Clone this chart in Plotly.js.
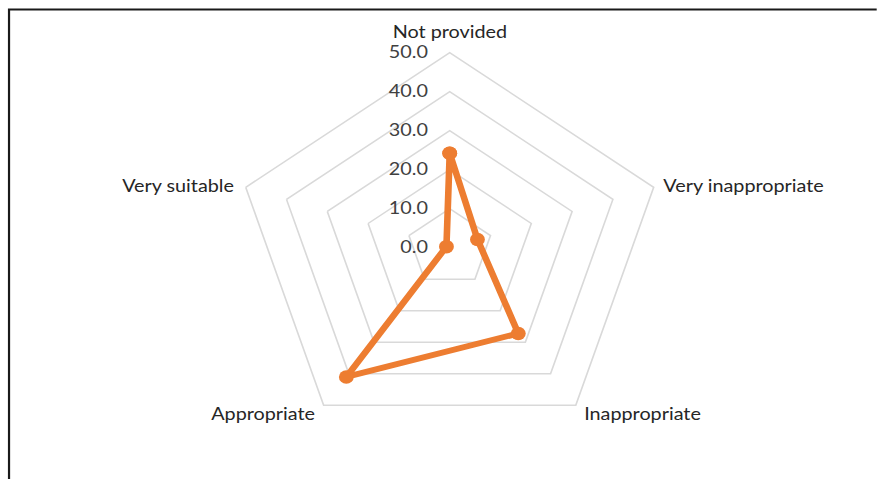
<!DOCTYPE html>
<html>
<head>
<meta charset="utf-8">
<script src="https://cdn.plot.ly/plotly-3.0.1.min.js"></script>
<style>
  html, body { margin: 0; padding: 0; background: #ffffff; overflow: hidden; }
  #wrap { width: 877px; height: 479px; overflow: hidden; position: relative; }
  /* the radar is drawn slightly wider than tall */
  #chart { width: 797px; height: 479px; transform: scaleX(1.1); transform-origin: 0 0; }
</style>
</head>
<body>
<div id="wrap"><div id="chart"></div></div>
<script>
// Share of responses per rating (%)
const categories = ["Not provided", "Very inappropriate", "Inappropriate", "Appropriate", "Very suitable"];
const shares = [24.2, 6.8, 27.2, 41.0, 0.8];
const radialTicks = [0, 10, 20, 30, 40, 50];
const radialTickText = ["0.0", "10.0", "20.0", "30.0", "40.0", "50.0"];

const orange = "#ED7D31";
const gridGrey = "#D9D9D9";
const W = 797, H = 479;
const domX = [0.2683, 0.7576], domY = [0.0760, 0.8902];

const trace = {
  type: "scatterpolar",
  r: shares.concat([shares[0]]),
  theta: categories.concat([categories[0]]),
  mode: "lines+markers",
  line: { color: orange, width: 6 },
  marker: { color: orange, size: 13.5 },
  hoverinfo: "skip",
  showlegend: false
};

// Category names sit just outside the outer pentagon corners,
// Excel style: top label above, side labels beside, bottom labels tucked in.
const cx = (domX[0] + domX[1]) / 2;
const cy = (domY[0] + domY[1]) / 2;
const rx = (domX[1] - domX[0]) / 2;
const ry = (domY[1] - domY[0]) / 2;
const labelStyle = [
  { xanchor: "center", xshift: 0,   yshift: 21.6 },
  { xanchor: "left",   xshift: 7,   yshift: 2 },
  { xanchor: "left",   xshift: 6,   yshift: -7.6 },
  { xanchor: "right",  xshift: -6,  yshift: -7.6 },
  { xanchor: "right",  xshift: -8,  yshift: 2 }
];
const annotations = categories.map((name, i) => {
  const phi = (i * 360 / categories.length) * Math.PI / 180;
  return Object.assign({
    text: name,
    xref: "paper", yref: "paper",
    x: cx + rx * Math.sin(phi),
    y: cy + ry * Math.cos(phi),
    yanchor: "middle",
    showarrow: false,
    font: { size: 18, color: "#262626" }
  }, labelStyle[i]);
});

const layout = {
  width: W,
  height: H,
  margin: { l: 0, r: 0, t: 0, b: 0 },
  paper_bgcolor: "#ffffff",
  plot_bgcolor: "#ffffff",
  font: { family: "Lato, 'Liberation Sans', sans-serif", size: 18, color: "#262626" },
  polar: {
    domain: { x: domX, y: domY },
    bgcolor: "#ffffff",
    gridshape: "linear",
    angularaxis: {
      rotation: 90,
      direction: "clockwise",
      showgrid: false,
      showline: true,
      linecolor: gridGrey,
      linewidth: 1.5,
      ticks: "",
      showticklabels: false
    },
    radialaxis: {
      range: [0, 50],
      angle: 90,
      tickangle: 90,
      side: "counterclockwise",
      tickvals: radialTicks,
      ticktext: radialTickText,
      showline: false,
      ticks: "outside",
      ticklen: 13,
      tickcolor: "rgba(0,0,0,0)",
      gridcolor: gridGrey,
      gridwidth: 1.5,
      tickfont: { size: 18, color: "#404040" }
    }
  },
  annotations: annotations,
  shapes: [{
    type: "rect", xref: "paper", yref: "paper",
    x0: 0.0103, x1: 1.05, y0: -0.05, y1: 0.980,
    line: { color: "#1a1a1a", width: 2 }
  }]
};

Plotly.newPlot("chart", [trace], layout, { displayModeBar: false, staticPlot: true });
</script>
</body>
</html>
